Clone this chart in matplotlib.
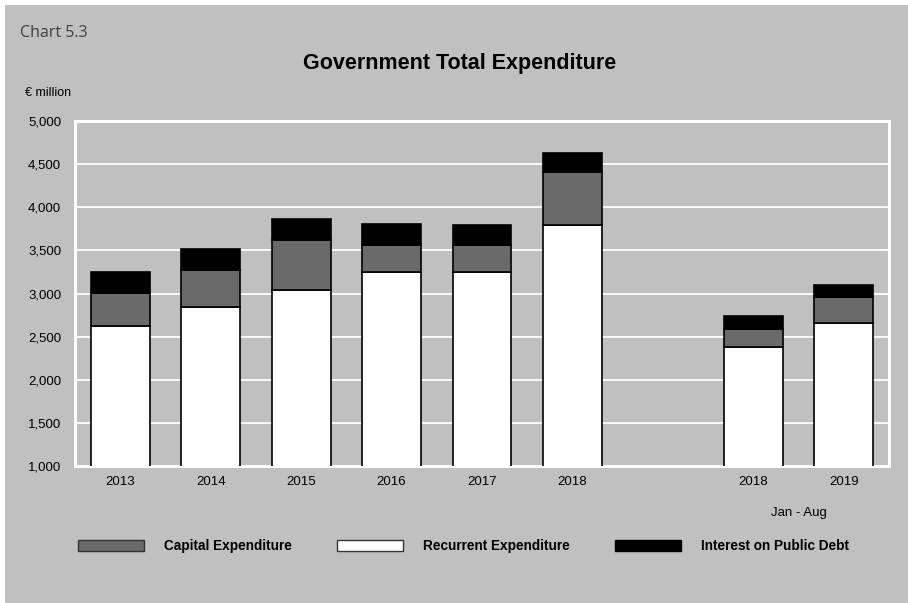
import numpy as np
import matplotlib
matplotlib.use("Agg")
import matplotlib.pyplot as plt
from matplotlib.patches import Patch, Rectangle
from matplotlib.ticker import FuncFormatter

plt.rcParams['font.family'] = ['Liberation Sans', 'DejaVu Sans']

# Data (EUR million)
years = ['2013', '2014', '2015', '2016', '2017', '2018', '2018', '2019']
recurrent = [2620, 2840, 3040, 3250, 3250, 3800, 2380, 2655]
capital = [390, 430, 580, 310, 310, 610, 210, 310]
interest = [240, 250, 244, 241, 240, 221, 151, 136]

# first six are full years, then a gap, then Jan-Aug of 2018 and 2019
pos = np.array([0, 1, 2, 3, 4, 5, 7, 8])

bg = '#c0c0c0'
cap_col = '#6a6a6a'

fig = plt.figure(figsize=(9.08, 6.03), dpi=100)
fig.patch.set_facecolor('white')
fig.add_artist(Rectangle((5/908, 0), 1, 1 - 5/603, transform=fig.transFigure,
                         facecolor=bg, edgecolor='none', zorder=-10))

ax = fig.add_axes([75/908, 1 - 466/603, (889 - 75)/908, (466 - 121)/603])
ax.set_facecolor(bg)

rec = np.array(recurrent)
capv = np.array(capital)
intv = np.array(interest)

w = 0.65
ax.bar(pos, rec, width=w, color='white', edgecolor='black', linewidth=1.2, zorder=3)
ax.bar(pos, capv, bottom=rec, width=w, color=cap_col, edgecolor='black', linewidth=1.2, zorder=3)
ax.bar(pos, intv, bottom=rec + capv, width=w, color='black', edgecolor='black', linewidth=1.2, zorder=3)

ax.set_xlim(-0.5, 8.5)
ax.set_ylim(1000, 5000)
ax.set_yticks(np.arange(1000, 5001, 500))
ax.yaxis.set_major_formatter(FuncFormatter(lambda v, p: '{:,.0f}'.format(v)))
ax.set_xticks(pos)
ax.set_xticklabels(years)
ax.tick_params(axis='both', length=0, labelsize=9.5, colors='black', pad=7)
ax.tick_params(axis='y', pad=10)
ax.grid(axis='y', color='white', linewidth=1.3, zorder=1)
for s in ax.spines.values():
    s.set_color('white')
    s.set_linewidth(2.2)

# sub-label under the two partial-year bars
ax.annotate('Jan - Aug', xy=(7.5, 0), xycoords=('data', 'axes fraction'),
            xytext=(0, -47), textcoords='offset pixels', ha='center', va='center',
            fontsize=9.5, color='black', annotation_clip=False)

fig.text(20/908, 1 - 33/603, 'Chart 5.3', fontsize=11.5, color='#404040',
         family=['Open Sans', 'DejaVu Sans'], va='center', ha='left')
fig.text(460/908, 1 - 63/603, 'Government Total Expenditure', fontsize=15.5,
         fontweight='bold', va='center', ha='center')
fig.text(25/908, 1 - 93/603, '€ million', fontsize=9, va='center', ha='left')

handles = [Patch(facecolor=cap_col, edgecolor='#333333', linewidth=1),
           Patch(facecolor='white', edgecolor='#333333', linewidth=1),
           Patch(facecolor='black', edgecolor='black', linewidth=1)]
labels = ['Capital Expenditure', 'Recurrent Expenditure', 'Interest on Public Debt']
fig.legend(handles, labels, ncol=3, loc='center left',
           bbox_to_anchor=(78/908, 1 - 546/603), frameon=False,
           prop={'weight': 'bold', 'size': 9.8},
           handlelength=4.85, handleheight=0.9, handletextpad=1.45,
           columnspacing=3.35, borderpad=0, borderaxespad=0)

fig.savefig('out.png', dpi=100, facecolor=fig.get_facecolor())
